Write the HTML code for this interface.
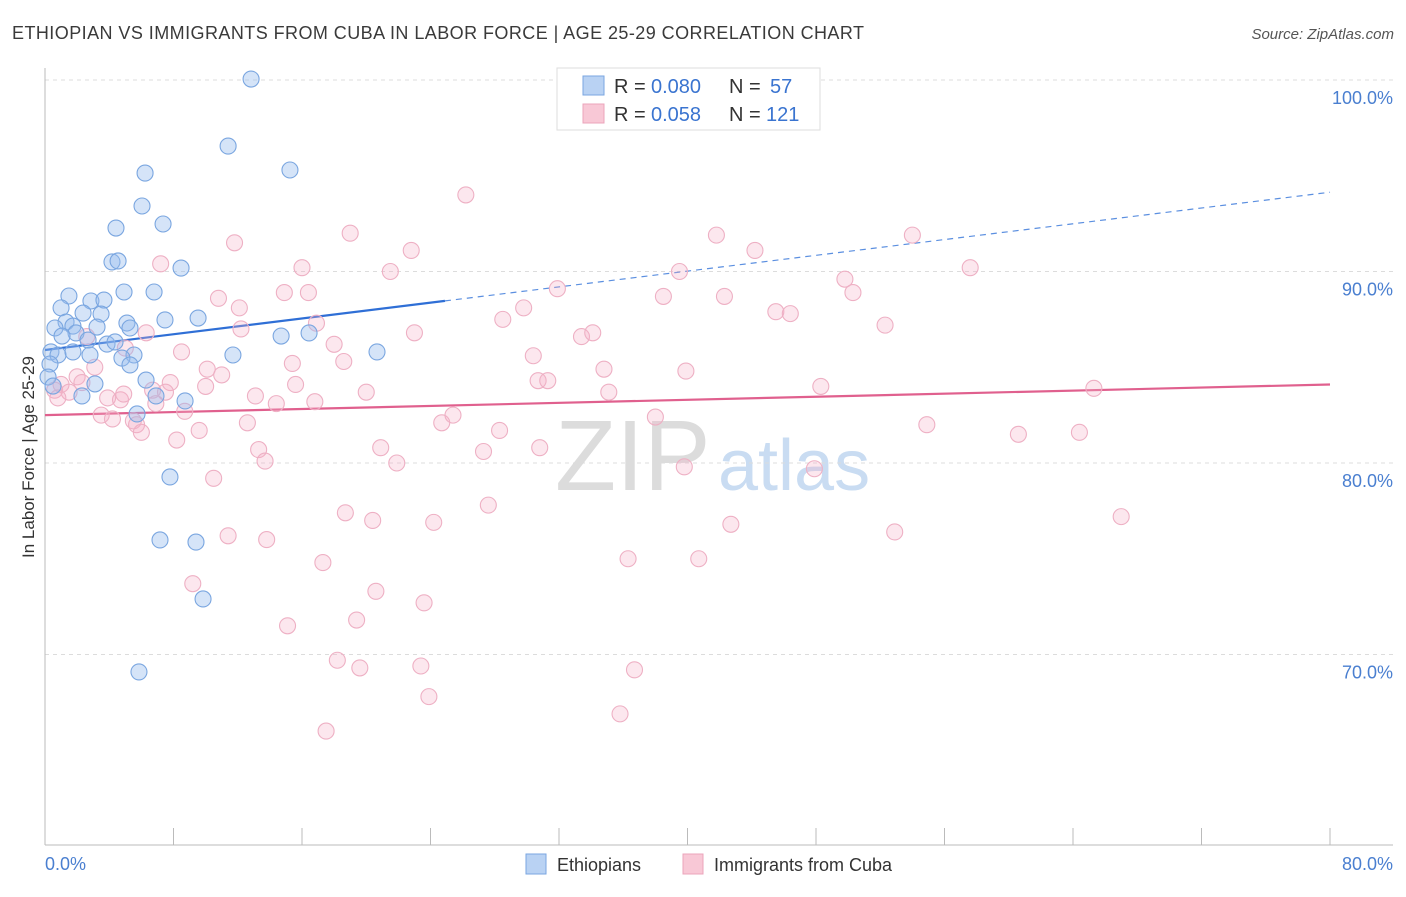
<!DOCTYPE html>
<html><head><meta charset="utf-8">
<style>
body{margin:0;background:#fff;font-family:"Liberation Sans",sans-serif;}
svg text{font-family:"Liberation Sans",sans-serif;}
</style></head>
<body>
<svg id="chart" width="1406" height="892" viewBox="0 0 1406 892" xmlns="http://www.w3.org/2000/svg">
<text x="12" y="39" font-size="18" fill="#3a3a3a" textLength="852" lengthAdjust="spacing">ETHIOPIAN VS IMMIGRANTS FROM CUBA IN LABOR FORCE | AGE 25-29 CORRELATION CHART</text>
<text x="1394" y="39" font-size="15" fill="#555" font-style="italic" text-anchor="end">Source: ZipAtlas.com</text>
<g>
<text x="555" y="490" font-size="100" fill="#dcdcdc" font-family="Liberation Serif,serif">ZIP</text>
<text x="718" y="490" font-size="72" fill="#c9dcf2">atlas</text>
</g>
<g id="grid"></g>
<g id="axes"></g>
<g id="trends"></g>
<g id="points"></g>
<text transform="translate(34,457) rotate(-90)" font-size="17" fill="#333" text-anchor="middle">In Labor Force | Age 25-29</text>
<text x="45" y="870" font-size="18" fill="#4a7fd0">0.0%</text>
<text x="1393" y="870" font-size="18" fill="#4a7fd0" text-anchor="end">80.0%</text>
<g>
<rect x="557" y="68" width="263" height="62" fill="#fff" stroke="#ddd"/>
<rect x="583" y="76" width="21" height="19" fill="#b9d2f3" stroke="#7aa6e0"/>
<rect x="583" y="104" width="21" height="19" fill="#f8c8d6" stroke="#eba4bb"/>
<text x="614" y="93" font-size="20" fill="#333">R =</text>
<text x="651" y="93" font-size="20" fill="#3a74d0">0.080</text>
<text x="729" y="93" font-size="20" fill="#333">N =</text>
<text x="770" y="93" font-size="20" fill="#3a74d0">57</text>
<text x="614" y="121" font-size="20" fill="#333">R =</text>
<text x="651" y="121" font-size="20" fill="#3a74d0">0.058</text>
<text x="729" y="121" font-size="20" fill="#333">N =</text>
<text x="766" y="121" font-size="20" fill="#3a74d0">121</text>
</g>
<g>
<rect x="526" y="854" width="20" height="20" fill="#b9d2f3" stroke="#7aa6e0"/>
<text x="557" y="871" font-size="18" fill="#333">Ethiopians</text>
<rect x="683" y="854" width="20" height="20" fill="#f8c8d6" stroke="#eba4bb"/>
<text x="714" y="871" font-size="18" fill="#333">Immigrants from Cuba</text>
</g>
</svg>
<script>
const yTicks=[100,90,80,70];
const yTickLabels=["100.0%","90.0%","80.0%","70.0%"];
const xTicks=[0,8,16,24,32,40,48,56,64,72,80];
const ethX=[12.83,11.4,15.25,6.23,6.04,4.42,7.35,4.17,4.55,8.47,4.92,6.79,1.49,2.86,3.67,1.0,2.37,3.49,1.31,1.74,5.1,7.47,9.53,0.62,3.24,5.29,1.93,1.06,2.68,3.86,4.36,14.7,16.44,0.37,0.81,1.74,2.8,5.54,4.79,11.7,20.67,5.29,0.31,0.19,6.29,3.11,0.5,2.3,6.91,8.72,5.73,7.78,7.16,9.4,9.84,5.85];
const ethY=[100.05,96.55,95.3,95.14,93.42,92.27,92.48,90.5,90.55,90.18,88.93,88.93,88.72,88.46,88.51,88.1,87.83,87.78,87.36,87.15,87.31,87.47,87.57,87.05,87.1,87.05,86.79,86.63,86.42,86.21,86.32,86.63,86.79,85.8,85.64,85.8,85.64,85.64,85.48,85.64,85.8,85.12,85.17,84.49,84.33,84.13,84.02,83.5,83.5,83.24,82.56,79.27,75.98,75.87,72.9,69.09];
const cubX=[26.2,11.8,19.0,22.8,41.8,54.0,44.2,16.0,21.5,7.2,39.5,57.6,10.8,12.1,14.9,16.4,31.9,38.5,42.3,49.8,50.3,29.8,45.5,46.4,28.5,16.9,12.2,23.0,52.3,33.4,34.1,6.3,2.6,18.0,8.5,30.4,18.6,5.0,15.4,34.8,39.9,10.1,11.0,3.1,7.8,15.6,30.7,31.3,35.1,48.3,65.3,20.0,10.0,13.1,16.8,2.0,1.0,0.6,1.5,0.8,2.3,3.9,4.7,4.9,6.7,7.5,6.9,8.7,3.5,4.2,5.5,5.7,6.0,14.4,12.6,24.7,25.4,38.0,9.6,8.2,28.3,54.9,60.6,64.4,13.3,20.9,30.8,27.3,13.7,21.9,10.5,39.8,47.9,27.6,18.7,20.4,24.2,42.7,67.0,52.9,11.4,13.8,36.3,40.7,17.3,9.2,20.6,23.6,15.1,19.4,18.2,19.6,23.4,36.7,23.9,35.8,17.5,47.0];
const cubY=[94.0,91.5,92.0,91.1,91.9,91.9,91.1,90.2,90.0,90.4,90.0,90.2,88.6,88.1,88.9,88.9,89.1,88.7,88.7,89.6,88.9,88.1,87.9,87.8,87.5,87.3,87.0,86.8,87.2,86.6,86.8,86.8,86.6,86.2,85.8,85.6,85.3,86.0,85.2,84.9,84.8,84.9,84.6,85.0,84.2,84.1,84.3,84.3,83.7,84.0,83.9,83.7,84.0,83.5,83.2,84.5,84.1,83.8,83.7,83.4,84.2,83.4,83.3,83.6,83.8,83.7,83.1,82.7,82.5,82.3,82.2,82.0,81.6,83.1,82.1,82.1,82.5,82.4,81.7,81.2,81.7,82.0,81.5,81.6,80.7,80.8,80.8,80.6,80.1,80.0,79.2,79.8,79.7,77.8,77.4,77.0,76.9,76.8,77.2,76.4,76.2,76.0,75.0,75.0,74.8,73.7,73.3,72.7,71.5,71.8,69.7,69.3,69.4,69.2,67.8,66.9,66.0,98.3];
const ethTrend=[85.9,0.103];  // intercept, slope
const ethSolidEnd=[24.9];
const cubTrend=[82.5,0.02];

const NS="http://www.w3.org/2000/svg";
const X=v=>45+v*(1285/80);
const Y=v=>80+(100-v)*19.15;
function mk(tag,attrs,parent){const e=document.createElementNS(NS,tag);for(const k in attrs)e.setAttribute(k,attrs[k]);parent.appendChild(e);return e;}
const grid=document.getElementById('grid'),axes=document.getElementById('axes'),trends=document.getElementById('trends'),pts=document.getElementById('points');
yTicks.forEach((t,i)=>{
  const l=mk('line',{x1:45,x2:1393,y1:Y(t),y2:Y(t),stroke:'#dcdcdc','stroke-dasharray':'4,4'},grid);
  
  
  const tx=mk('text',{x:1393,y:Y(t)+24,'font-size':18,fill:'#4a7fd0','text-anchor':'end'},grid);
  tx.textContent=yTickLabels[i];
  
  
});
const ya=mk('line',{x1:45,x2:45,y1:68,y2:845,stroke:'#bbb'},axes);


const xa=mk('line',{x1:45,x2:1393,y1:845,y2:845,stroke:'#bbb'},axes);


xTicks.forEach(t=>{
  const l=mk('line',{x1:X(t),x2:X(t),y1:828,y2:845,stroke:'#bbb'},axes);
  
  
});
function drawPts(xs,ys,fill,stroke,name){
  xs.forEach((x,i)=>{
    const c=mk('circle',{cx:X(x),cy:Y(ys[i]),r:8,fill:fill,stroke:stroke,'stroke-width':1.1},pts);
    
    
  });
}
drawPts(cubX,cubY,'rgba(245,175,198,0.3)','#eeb0c4','cuba-point');
drawPts(ethX,ethY,'rgba(150,188,238,0.4)','#7aa6e0','ethiopian-point');
const te=ethSolidEnd[0];
const b1=mk('line',{x1:X(0),y1:Y(ethTrend[0]),x2:X(te),y2:Y(ethTrend[0]+ethTrend[1]*te),stroke:'#2f6fd6','stroke-width':2.2},trends);


const b2=mk('line',{x1:X(te),y1:Y(ethTrend[0]+ethTrend[1]*te),x2:X(80),y2:Y(ethTrend[0]+ethTrend[1]*80),stroke:'#5b8fe0','stroke-width':1.2,'stroke-dasharray':'6,5'},trends);


const p1=mk('line',{x1:X(0),y1:Y(cubTrend[0]),x2:X(80),y2:Y(cubTrend[0]+cubTrend[1]*80),stroke:'#e0608e','stroke-width':2.2},trends);


</script>
</body></html>
